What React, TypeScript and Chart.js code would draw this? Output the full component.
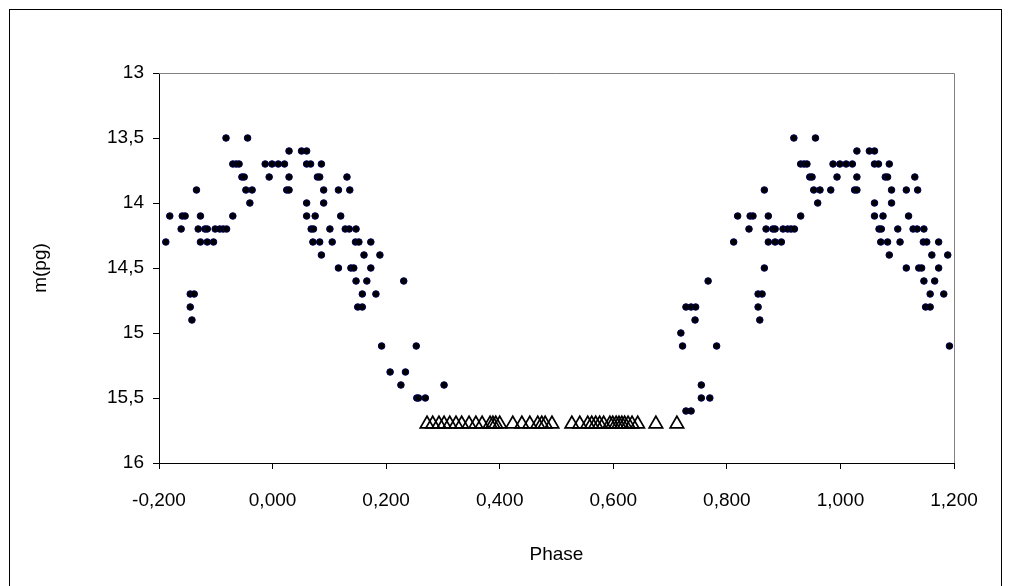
import React, { useEffect, useRef } from 'react';
import { Chart, registerables } from 'chart.js';

Chart.register(...registerables);

// Observed phases / magnitudes, left part of the diagram (-0.2 .. 0.31)
const leftPhases = [
  -0.188, -0.181, -0.161, -0.159, -0.154, -0.145, -0.138, -0.145, -0.142, -0.134,
  -0.131, -0.127, -0.127, -0.119, -0.115, -0.115, -0.104, -0.101, -0.093, -0.087,
  -0.081, -0.082, -0.070, -0.070, -0.064, -0.059, -0.054, -0.050, -0.047, -0.036,
  -0.044, -0.040, -0.013, -0.001, 0.010, 0.021, -0.006, 0.025, 0.029, 0.029,
  0.029, 0.051, 0.060, 0.060, 0.067, 0.086, 0.060, 0.060, 0.075, 0.079,
  0.083, 0.090, 0.090, 0.068, 0.072, 0.071, 0.083, 0.086, 0.101, 0.105,
  0.116, 0.131, 0.136, 0.120, 0.128, 0.135, 0.147, 0.116, 0.138, 0.143,
  0.173, 0.146, 0.152, 0.173, 0.161, 0.189, 0.147, 0.166, 0.231, 0.158,
  0.182, 0.150, 0.158, 0.192, 0.253, 0.207, 0.234, 0.226, 0.302, 0.254,
  0.257, 0.269,
];
const leftMags = [
  14.3, 14.1, 14.2, 14.1, 14.1, 14.7, 14.7, 14.8, 14.9, 13.9,
  14.2, 14.1, 14.3, 14.2, 14.2, 14.3, 14.3, 14.2, 14.2, 14.2,
  14.2, 13.5, 14.1, 13.7, 13.7, 13.7, 13.8, 13.8, 13.9, 13.9,
  13.5, 14.0, 13.7, 13.7, 13.7, 13.7, 13.8, 13.9, 13.9, 13.8,
  13.6, 13.6, 13.6, 13.7, 13.7, 13.7, 14.0, 14.1, 14.1, 13.8,
  13.8, 13.9, 14.0, 14.2, 14.2, 14.3, 14.3, 14.4, 14.2, 14.3,
  13.9, 13.8, 13.9, 14.1, 14.2, 14.2, 14.2, 14.5, 14.5, 14.5,
  14.5, 14.3, 14.3, 14.3, 14.4, 14.4, 14.6, 14.6, 14.6, 14.7,
  14.7, 14.8, 14.8, 15.1, 15.1, 15.3, 15.3, 15.4, 15.4, 15.5,
  15.5, 15.5,
];

// Right part of the diagram (0.71 .. 1.2)
const rightPhases = [
  0.812, 0.819, 0.839, 0.841, 0.846, 0.855, 0.862, 0.855, 0.858, 0.866,
  0.869, 0.873, 0.873, 0.881, 0.885, 0.885, 0.896, 0.899, 0.907, 0.913,
  0.919, 0.918, 0.930, 0.930, 0.936, 0.941, 0.946, 0.950, 0.953, 0.964,
  0.956, 0.960, 0.987, 0.999, 1.010, 1.021, 0.994, 1.025, 1.029, 1.029,
  1.029, 1.051, 1.060, 1.060, 1.067, 1.086, 1.060, 1.060, 1.075, 1.079,
  1.083, 1.090, 1.090, 1.068, 1.072, 1.071, 1.083, 1.086, 1.101, 1.105,
  1.116, 1.131, 1.136, 1.120, 1.128, 1.135, 1.147, 1.116, 1.138, 1.143,
  1.173, 1.146, 1.152, 1.173, 1.161, 1.189, 1.147, 1.166, 1.158, 1.182,
  1.150, 1.158, 1.192, 0.983, 0.866,
  0.719, 0.722, 0.728, 0.737, 0.745, 0.744, 0.767, 0.782, 0.755, 0.755,
  0.770, 0.728, 0.737,
];
const rightMags = [
  14.3, 14.1, 14.2, 14.1, 14.1, 14.7, 14.7, 14.8, 14.9, 13.9,
  14.2, 14.1, 14.3, 14.2, 14.2, 14.3, 14.3, 14.2, 14.2, 14.2,
  14.2, 13.5, 14.1, 13.7, 13.7, 13.7, 13.8, 13.8, 13.9, 13.9,
  13.5, 14.0, 13.7, 13.7, 13.7, 13.7, 13.8, 13.9, 13.9, 13.8,
  13.6, 13.6, 13.6, 13.7, 13.7, 13.7, 14.0, 14.1, 14.1, 13.8,
  13.8, 13.9, 14.0, 14.2, 14.2, 14.3, 14.3, 14.4, 14.2, 14.3,
  13.9, 13.8, 13.9, 14.1, 14.2, 14.2, 14.2, 14.5, 14.5, 14.5,
  14.5, 14.3, 14.3, 14.3, 14.4, 14.4, 14.6, 14.6, 14.7, 14.7,
  14.8, 14.8, 15.1, 13.9, 14.5,
  15.0, 15.1, 14.8, 14.8, 14.8, 14.9, 14.6, 15.1, 15.4, 15.5,
  15.5, 15.6, 15.6,
];

// Faint observations (open triangles)
const limitPhases = [
  0.272, 0.282, 0.293, 0.302, 0.312, 0.323, 0.333, 0.346, 0.358, 0.369,
  0.383, 0.388, 0.393, 0.400, 0.423, 0.439, 0.453, 0.467, 0.474, 0.480,
  0.492, 0.527, 0.541, 0.555, 0.562, 0.569, 0.576, 0.583, 0.594, 0.599,
  0.605, 0.610, 0.615, 0.620, 0.626, 0.633, 0.643, 0.675, 0.712,
];
const limitMags = limitPhases.map(() => 15.7);

const xTickValues = [-0.2, 0, 0.2, 0.4, 0.6, 0.8, 1.0, 1.2];
const yTickValues = [13, 13.5, 14, 14.5, 15, 15.5, 16];

const FONT = "'Liberation Sans', Arial, sans-serif";
const FONT_SIZE = 19;

const framePlugin = {
  id: 'frame',
  beforeDraw(chart: any) {
    const { ctx, width, height } = chart;
    ctx.save();
    ctx.fillStyle = '#fff';
    ctx.fillRect(0, 0, width, height);
    ctx.restore();
  },
  afterDraw(chart: any) {
    const { ctx, chartArea: a } = chart;
    ctx.save();
    ctx.lineWidth = 1;
    ctx.strokeStyle = '#808080';
    ctx.beginPath();
    ctx.moveTo(a.left, Math.round(a.top) + 0.5);
    ctx.lineTo(Math.round(a.right) + 0.5, Math.round(a.top) + 0.5);
    ctx.lineTo(Math.round(a.right) + 0.5, a.bottom);
    ctx.stroke();
    ctx.strokeStyle = '#000';
    ctx.strokeRect(9.5, 9.5, 992, 700);
    ctx.restore();
  },
};

export default function App() {
  const ref = useRef<HTMLCanvasElement | null>(null);

  useEffect(() => {
    if (!ref.current) return;
    const zip = (xs: number[], ys: number[]) => xs.map((x, i) => ({ x, y: ys[i] }));
    const chart = new Chart(ref.current, {
      type: 'scatter',
      data: {
        datasets: [
          {
            data: [...zip(leftPhases, leftMags), ...zip(rightPhases, rightMags)],
            pointStyle: 'circle',
            pointRadius: 3.3,
            pointBorderWidth: 1,
            pointBackgroundColor: '#000',
            pointBorderColor: '#000050',
            showLine: false,
            clip: false,
          } as any,
          {
            data: zip(limitPhases, limitMags),
            pointStyle: 'triangle',
            pointRadius: 7.8,
            pointBorderWidth: 1.7,
            pointBackgroundColor: 'rgba(0,0,0,0)',
            pointBorderColor: '#000',
            showLine: false,
            clip: false,
          } as any,
        ],
      },
      options: {
        responsive: false,
        devicePixelRatio: 1,
        animation: false,
        events: [],
        layout: { padding: { left: 9, top: 73, right: 57, bottom: 0 } },
        plugins: { legend: { display: false }, tooltip: { enabled: false } },
        scales: {
          x: {
            type: 'linear',
            position: 'bottom',
            min: -0.2,
            max: 1.2,
            afterBuildTicks: (s: any) => {
              s.ticks = xTickValues.map((v) => ({ value: v }));
            },
            afterFit: (s: any) => {
              s.height = 123;
            },
            ticks: {
              autoSkip: false,
              maxRotation: 0,
              padding: 20,
              color: '#000',
              font: { family: FONT, size: FONT_SIZE },
              callback: (v: any) => {
                const n = Math.abs(Number(v)) < 1e-9 ? 0 : Number(v);
                return n.toFixed(3).replace('.', ',');
              },
            },
            grid: { display: true, drawOnChartArea: false, drawTicks: true, tickLength: 6, color: '#000' },
            border: { display: true, color: '#000', width: 1 },
            title: {
              display: true,
              text: 'Phase',
              color: '#000',
              font: { family: FONT, size: FONT_SIZE },
              padding: { top: 0, bottom: 20 },
            },
          },
          y: {
            type: 'linear',
            position: 'left',
            reverse: true,
            min: 13,
            max: 16,
            afterBuildTicks: (s: any) => {
              s.ticks = yTickValues.map((v) => ({ value: v }));
            },
            afterFit: (s: any) => {
              s.width = 150;
            },
            ticks: {
              padding: 9,
              color: '#000',
              font: { family: FONT, size: FONT_SIZE },
              callback: (v: any) => String(Number(v)).replace('.', ','),
            },
            grid: { display: true, drawOnChartArea: false, drawTicks: true, tickLength: 6, color: '#000' },
            border: { display: true, color: '#000', width: 1 },
            title: {
              display: true,
              text: 'm(pg)',
              color: '#000',
              font: { family: FONT, size: FONT_SIZE },
              padding: { top: 20, bottom: 0 },
            },
          },
        },
      } as any,
      plugins: [framePlugin],
    });
    return () => chart.destroy();
  }, []);

  return (
    <div style={{ position: 'fixed', left: 0, top: 0, width: 1011, height: 586 }}>
      <canvas ref={ref} width={1011} height={586} style={{ display: 'block', width: 1011, height: 586 }} />
    </div>
  );
}
